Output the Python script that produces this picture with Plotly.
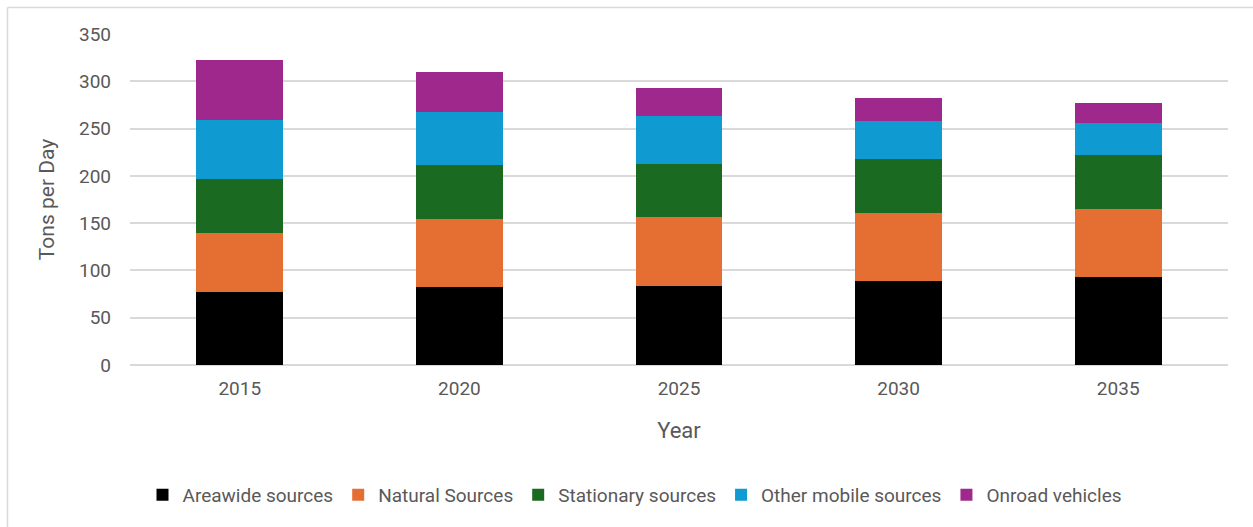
import plotly.graph_objects as go

years = ["2015", "2020", "2025", "2030", "2035"]
areawide = [77, 82, 84, 88.5, 93]
natural = [63, 72, 72, 72, 72]
stationary = [57, 58, 57, 57.5, 57]
other_mobile = [62, 56, 50, 40, 34]
onroad = [63, 42, 30, 24.5, 21]

series = [
    ("Areawide sources", areawide, "#000000"),
    ("Natural Sources", natural, "#E56E33"),
    ("Stationary sources", stationary, "#1B6A22"),
    ("Other mobile sources", other_mobile, "#0F9BD1"),
    ("Onroad vehicles", onroad, "#9F288C"),
]

W, H = 1253, 527
ML, MR, MT, MB = 130, 25, 34, 162
PW, PH = W - ML - MR, H - MT - MB

fig = go.Figure()
for name, vals, col in series:
    fig.add_trace(go.Bar(x=years, y=vals, name=name, marker_color=col,
                         marker_line_width=0))

font_fam = "Roboto, Liberation Sans, sans-serif"
txt = "#595959"

def px_x(p):
    return (p - ML) / PW

def px_y(p):
    return 1 - (p - MT) / PH

fig.update_layout(
    width=W, height=H,
    barmode="stack", bargap=0.604,
    margin=dict(l=ML, r=MR, t=MT, b=MB),
    plot_bgcolor="white", paper_bgcolor="white",
    font=dict(family=font_fam, color=txt, size=18),
    showlegend=True,
    legend=dict(orientation="h", x=px_x(635), xanchor="center", y=px_y(495), yanchor="middle",
                font=dict(size=19, color=txt), traceorder="normal",
                itemwidth=30),
    xaxis=dict(tickfont=dict(size=19, color=txt), ticklabelstandoff=10,
               title=dict(text="Year", font=dict(size=22, color=txt), standoff=23),
               showline=False, ticks=""),
    yaxis=dict(range=[0, 350], dtick=50, tickfont=dict(size=19, color=txt),
               gridcolor="#D9D9D9", gridwidth=1.5, zeroline=True, zerolinecolor="#D9D9D9",
               zerolinewidth=1.5, ticklabelstandoff=18,
               title=dict(text="Tons per Day", font=dict(size=21, color=txt), standoff=18),
               showline=False, ticks=""),
    shapes=[
        dict(type="line", xref="paper", yref="paper", x0=px_x(7.5), x1=px_x(1253),
             y0=px_y(7.5), y1=px_y(7.5), line=dict(color="#D9D9D9", width=1.5)),
        dict(type="line", xref="paper", yref="paper", x0=px_x(7.5), x1=px_x(7.5),
             y0=px_y(7.5), y1=px_y(527), line=dict(color="#D9D9D9", width=1.5)),
    ],
)

fig.write_html("out.html")
